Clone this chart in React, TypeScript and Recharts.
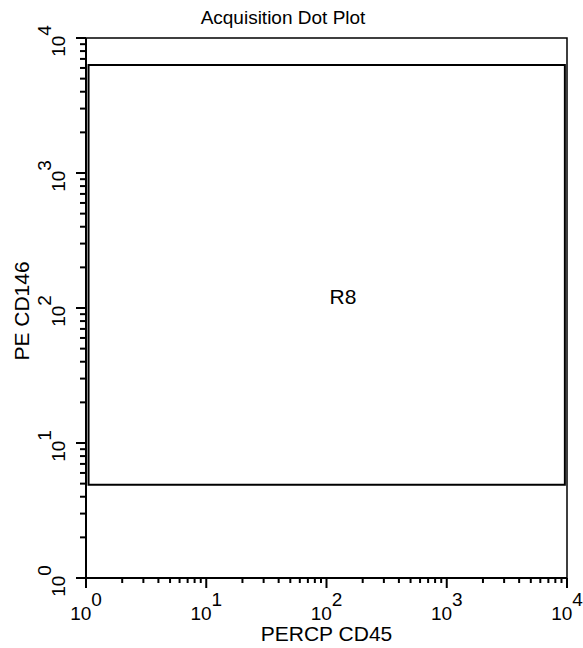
import {
  ScatterChart,
  Scatter,
  XAxis,
  YAxis,
  ReferenceArea,
} from "recharts";

// log decades 10^0 .. 10^4, with minor ticks at 2..9 of each decade
const decades = [1, 10, 100, 1000, 10000];
const minorSteps = [2, 3, 4, 5, 6, 7, 8, 9];
const axisTicks = decades.flatMap((d) =>
  d === 10000 ? [d] : [d, ...minorSteps.map((m) => m * d)]
);

const xLabel = "PERCP CD45";
const yLabel = "PE CD146";
const title = "Acquisition Dot Plot";

// acquired events (none shown in this plot)
const events: { x: number; y: number }[] = [];

// gate R8 bounds
const gateName = "R8";
const gateX = [1.05, 9600];
const gateY = [4.9, 6300];
const gateLabelAt = [{ x: 137, y: 121 }];

const FONT = "'Liberation Sans', Arial, Helvetica, sans-serif";

const isMajor = (v: number) => decades.includes(v);
const exponent = (v: number) => Math.round(Math.log10(v));

function XTick({ x, y, payload }: any) {
  const v = payload.value;
  const major = isMajor(v);
  return (
    <g>
      <line x1={x} y1={y} x2={x} y2={y + (major ? 10 : 5)} stroke="#000" strokeWidth={2} />
      {major && (
        <text x={x} y={y + 42} textAnchor="middle" fontSize={19} fontFamily={FONT} fill="#000">
          10
          <tspan dy={-14}>{exponent(v)}</tspan>
        </text>
      )}
    </g>
  );
}

function YTick({ x, y, payload }: any) {
  const v = payload.value;
  const major = isMajor(v);
  return (
    <g>
      <line x1={x} y1={y} x2={x - (major ? 10 : 6)} y2={y} stroke="#000" strokeWidth={2} />
      {major && (
        <text
          transform={`translate(${x - 21},${y + 3}) rotate(-90)`}
          textAnchor="middle"
          fontSize={19}
          fontFamily={FONT}
          fill="#000"
        >
          10
          <tspan dy={-14}>{exponent(v)}</tspan>
        </text>
      )}
    </g>
  );
}

function GateLabel({ cx, cy }: any) {
  return (
    <text x={cx} y={cy} textAnchor="middle" dominantBaseline="central" fontSize={21} fontFamily={FONT} fill="#000">
      {gateName}
    </text>
  );
}

export default function App() {
  return (
    <div style={{ position: "absolute", left: 0, top: 0, width: 583, height: 648, background: "#fff" }}>
      <div
        style={{
          position: "absolute",
          left: 173,
          top: 7,
          width: 220,
          textAlign: "center",
          fontFamily: FONT,
          fontSize: 19,
          color: "#000",
        }}
      >
        {title}
      </div>
      <ScatterChart width={583} height={648} margin={{ top: 38, right: 16, bottom: 0, left: 0 }}>
        <XAxis
          type="number"
          dataKey="x"
          scale="log"
          domain={[1, 10000]}
          allowDataOverflow
          ticks={axisTicks}
          interval={0}
          tickSize={0}
          tickMargin={0}
          tick={<XTick />}
          height={70}
          axisLine={{ stroke: "#000", strokeWidth: 2 }}
          label={{ value: xLabel, position: "insideBottom", offset: 7, fontSize: 21, fontFamily: FONT, fill: "#000" }}
        />
        <YAxis
          type="number"
          dataKey="y"
          scale="log"
          domain={[1, 10000]}
          allowDataOverflow
          ticks={axisTicks}
          interval={0}
          tickSize={0}
          tickMargin={0}
          tick={<YTick />}
          width={86}
          axisLine={{ stroke: "#000", strokeWidth: 2 }}
        />
        <ReferenceArea x1={1} x2={10000} y1={1} y2={10000} fill="none" stroke="#000" strokeWidth={1.5} ifOverflow="visible" />
        <ReferenceArea
          x1={gateX[0]}
          x2={gateX[1]}
          y1={gateY[0]}
          y2={gateY[1]}
          fill="none"
          stroke="#000"
          strokeWidth={2}
          ifOverflow="visible"
        />
        <Scatter data={events} fill="#000" isAnimationActive={false} />
        <Scatter data={gateLabelAt} shape={<GateLabel />} isAnimationActive={false} />
        <text
          transform="translate(29,311) rotate(-90)"
          textAnchor="middle"
          fontSize={21}
          fontFamily={FONT}
          fill="#000"
        >
          {yLabel}
        </text>
      </ScatterChart>
    </div>
  );
}
